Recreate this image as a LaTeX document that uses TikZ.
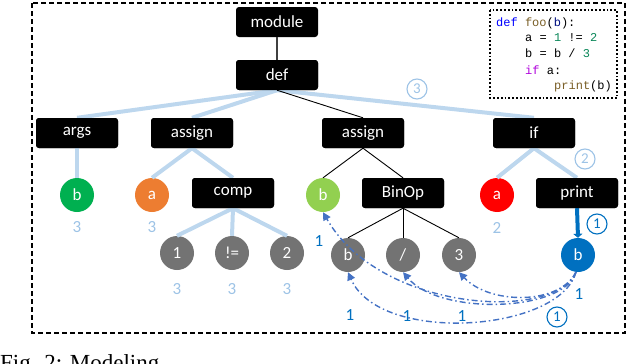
\documentclass[tikz,border=0pt]{standalone}
\usepackage{fontspec}
\setmainfont{Carlito}
\newfontfamily\codefont{Liberation Mono}
\newfontfamily\capfont{Liberation Serif}
\usetikzlibrary{arrows.meta}
\definecolor{lblue}{HTML}{BDD7EE}
\definecolor{lbtext}{HTML}{9DC3E6}
\definecolor{dblue}{HTML}{0070C0}
\definecolor{arrblue}{HTML}{4472C4}
\definecolor{cgreen}{HTML}{00B050}
\definecolor{corange}{HTML}{ED7D31}
\definecolor{clgreen}{HTML}{92D050}
\definecolor{cgray}{HTML}{737373}
\definecolor{kwblue}{HTML}{0000FF}
\definecolor{fnbrown}{HTML}{795E26}
\definecolor{numgreen}{HTML}{098658}
\definecolor{kwpurple}{HTML}{AF00DB}
\definecolor{varblue}{HTML}{001080}
\tikzset{
  box/.style={fill=black, rounded corners=3pt, minimum width=82pt, minimum height=30pt,
    inner sep=0pt, text=white, font=\fontsize{17}{17}\selectfont},
  leaf/.style={circle, minimum size=34pt, inner sep=0pt, text=white, font=\fontsize{17}{17}\selectfont},
  lbedge/.style={line width=4pt, lblue},
  astedge/.style={line width=0.9pt, black},
  lbnum/.style={text=lbtext, font=\fontsize{17}{17}\selectfont, inner sep=0pt},
  dnum/.style={text=dblue, font=\fontsize{17}{17}\selectfont, inner sep=0pt},
  circnum/.style={circle, draw, line width=1.1pt, minimum size=20pt, inner sep=0pt, font=\fontsize{15}{15}\selectfont},
  flow/.style={arrblue, line width=1.4pt, dash pattern=on 6pt off 3pt on 1.5pt off 3pt,
    -{Triangle[width=8pt,length=8pt]}},
  codeline/.style={anchor=west, inner sep=0pt, font=\codefont\fontsize{12}{12}\selectfont}
}
\begin{document}
\begin{tikzpicture}[x=1pt,y=-1pt]
\useasboundingbox (0,0) rectangle (640,364);
% outer frame
\draw[line width=1.2pt, dash pattern=on 5pt off 3pt] (32,3) rectangle (625,333);
% code box
\draw[line width=1.8pt, dotted] (490,10) rectangle (617,98);
\node[codeline] (c1) at (496,23) {\textcolor{kwblue}{def} \textcolor{fnbrown}{foo}(\textcolor{varblue}{b}):};
\node[codeline] (c2) at (525,38) {a = \textcolor{numgreen}{1} != \textcolor{numgreen}{2}};
\node[codeline] (c3) at (525,53) {b = b / \textcolor{numgreen}{3}};
\node[codeline] (c4) at (525,70) {\textcolor{kwpurple}{if} a:};
\node[codeline] (c5) at (554,86) {\textcolor{fnbrown}{print}(b)};

% boxes
\node[box] (module) at (277,22) {module};
\node[box] (def) at (277,75) {def};
\node[box] (args) at (77,133) {args};
\node[box] (assignA) at (192,133) {assign};
\node[box] (assignB) at (363,133) {assign};
\node[box] (if) at (534,133) {if};
\node[box] (comp) at (233,193) {comp};
\node[box] (binop) at (403,193) {BinOp};
\node[box] (print) at (577,193) {print};
% leaves
\node[leaf, fill=cgreen] (bg) at (77,195) {b};
\node[leaf, fill=corange] (ao) at (152,195) {a};
\node[leaf, fill=clgreen] (bl) at (323,195) {b};
\node[leaf, fill=red] (ar) at (497,195) {a};
\node[leaf, fill=cgray] (one) at (177,253) {1};
\node[leaf, fill=cgray] (neq) at (232,253) {!=};
\node[leaf, fill=cgray] (two) at (287,253) {2};
\node[leaf, fill=cgray] (bgr) at (348,255) {b};
\node[leaf, fill=cgray] (div) at (403,255) {/};
\node[leaf, fill=cgray] (three) at (459,255) {3};
\node[leaf, fill=dblue] (bb) at (578,255) {b};

% edges
\draw[line width=1.2pt, black!75] (module) -- (def);
\draw[lbedge] (def.south) -- (args.north);
\draw[lbedge] (def.south) -- (assignA.north);
\draw[lbedge] (def.south) -- (if.north);
\draw[astedge] (def.south) -- (assignB.north);
\draw[lbedge] (args) -- (bg);
\draw[lbedge] (assignA.south) -- (ao.north);
\draw[lbedge] (assignA.south) -- (comp.north);
\draw[lbedge] (comp.south) -- (one.north);
\draw[lbedge] (comp.south) -- (neq.north);
\draw[lbedge] (comp.south) -- (two.north);
\draw[astedge] (assignB.south) -- (bl.north);
\draw[astedge] (assignB.south) -- (binop.north);
\draw[astedge] (binop.south) -- (bgr.north);
\draw[astedge] (binop.south) -- (div.north);
\draw[astedge] (binop.south) -- (three.north);
\draw[lbedge] (if.south) -- (ar.north);
\draw[lbedge] (if.south) -- (print.north);
\draw[dblue, line width=4pt, -{Triangle[width=9pt,length=4pt]}] (print.south) -- (bb.north);

% redraw boxes over edges
\node[box] at (def) {def};
\node[box] at (if) {if};
\node[box] at (assignB) {assign};
\node[box] at (assignA) {assign};
\node[box] at (comp) {comp};
\node[box] at (binop) {BinOp};
\node[box] at (print) {print};
\node[box] at (args) {args};

% flow arrows
\coordinate (bs) at (576,272);
\draw[flow] (bs) .. controls (560,305) and (490,305) .. (three.south);
\draw[flow] (bs) .. controls (565,312) and (440,316) .. (div.south);
\draw[flow] (bs) .. controls (560,332) and (380,345) .. (bgr.south);
\draw[flow] (bs) .. controls (555,322) and (380,312) .. (bl.south);

% labels
\node[lbnum] (l1) at (77,227) {3};
\node[lbnum] (l2) at (152,227) {3};
\node[lbnum] (l3) at (177,289) {3};
\node[lbnum] (l4) at (232,289) {3};
\node[lbnum] (l5) at (287,289) {3};
\node[lbnum] (l6) at (497,228) {2};
\node[dnum] (d1) at (319,241) {1};
\node[dnum] (d2) at (350,315) {1};
\node[dnum] (d3) at (407,316) {1};
\node[dnum] (d4) at (462,316) {1};
\node[dnum] (d5) at (579,294) {1};
\node[circnum, lbtext] (c3n) at (417,89) {3};
\node[circnum, lbtext] (c2n) at (585,159) {2};
\node[circnum, dblue] (c1a) at (597,224) {1};
\node[circnum, dblue] (c1b) at (557,317) {1};

% caption (cut off in the reference too)
\node[anchor=north west, inner sep=0pt, font=\capfont\fontsize{23}{23}\selectfont] (cap) at (0,354) {Fig. 2: Modeling};
\end{tikzpicture}
\end{document}
